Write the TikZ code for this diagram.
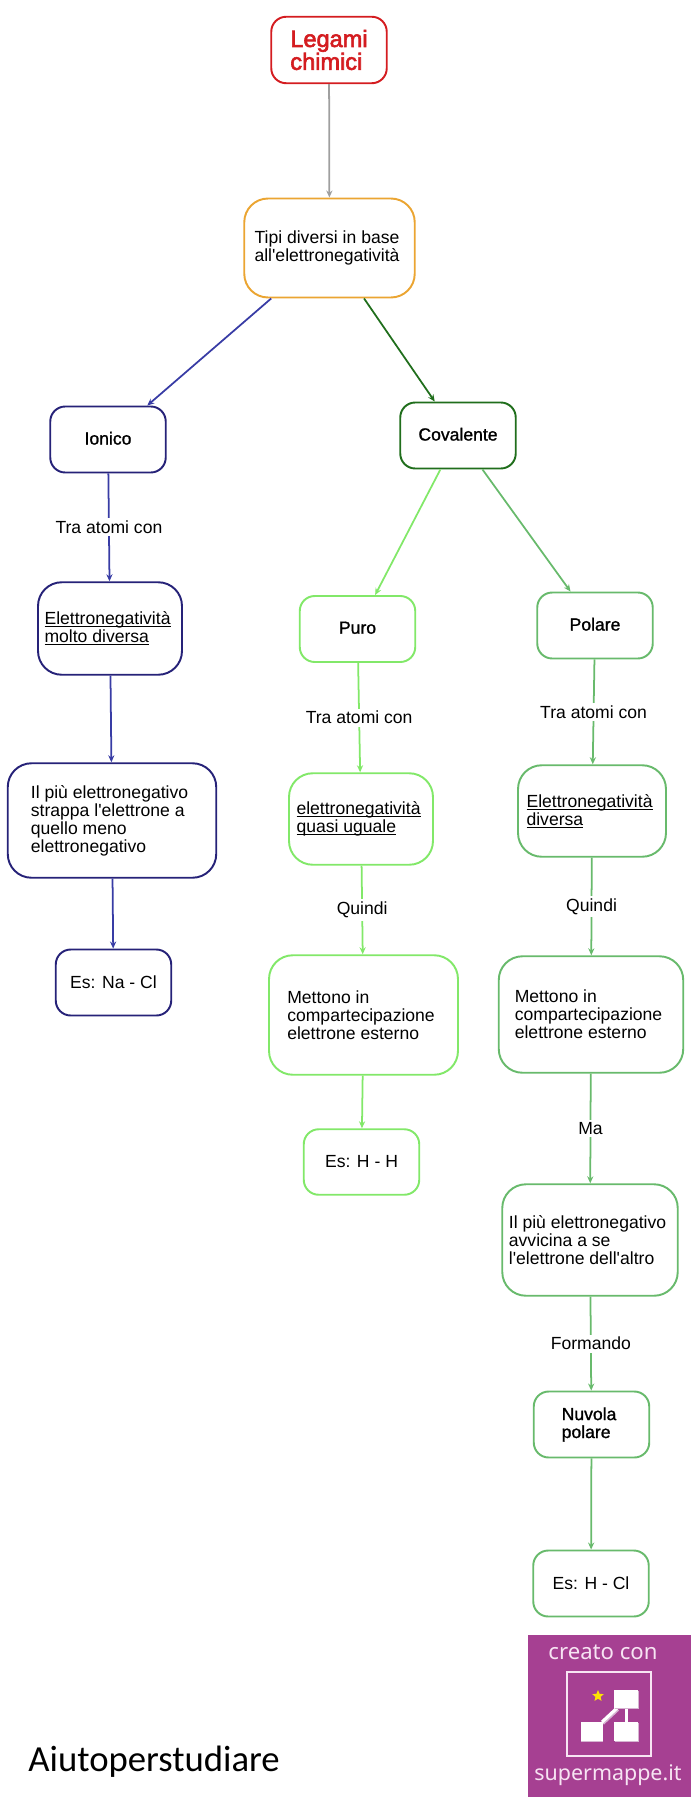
\documentclass[tikz,border=0pt]{standalone}
\usepackage{fontspec}
\setmainfont{Liberation Sans}[Ligatures=TeXOff]
\newfontfamily\fakebold[FakeBold=1.2, Ligatures=TeXOff]{Liberation Sans}
\newfontfamily\titlebold[FakeBold=2.5, Ligatures=TeXOff]{Liberation Sans}
\newfontfamily\handfont{Carlito}
\newfontfamily\logofont{Noto Sans}
\usetikzlibrary{positioning}
\usetikzlibrary{arrows.meta}
\usetikzlibrary{shapes.geometric}
\usetikzlibrary{shadows}
\definecolor{legred}{RGB}{212,28,32}
\definecolor{tipiorange}{RGB}{235,165,50}
\definecolor{ionnavy}{RGB}{38,34,120}
\definecolor{ionblue}{RGB}{56,60,165}
\definecolor{covgreen}{RGB}{32,110,28}
\definecolor{purolight}{RGB}{130,232,105}
\definecolor{polgreen}{RGB}{104,186,108}
\definecolor{logopurple}{RGB}{166,64,146}
\definecolor{logotext}{RGB}{247,228,243}
\definecolor{logoshade}{RGB}{214,180,210}
\newcommand{\ultext}[1]{\mbox{\setbox0\hbox{#1}\rlap{\rule[-1.5pt]{\wd0}{0.55pt}}\box0}}
\newcommand{\pad}{\hspace*{2.8pt}}
\tikzset{
    mapbox/.style={draw, fill=white, line width=1.1pt, rounded corners=8.5pt, inner sep=0pt, align=left},
    bigbox/.style={mapbox, rounded corners=13.5pt},
    boldbox/.style={mapbox, minimum width=2.31cm, minimum height=1.32cm, font=\fakebold\fontsize{10}{10.2}\selectfont},
    titlebox/.style={boldbox, text depth=1.5pt},
    linklabel/.style={fill=white, inner sep=1.5pt, text=black},
    maparrow/.style={-{Stealth[length=4pt, width=3.5pt]}, line width=1pt},
    logobox/.style={fill=white, inner sep=0pt, drop shadow={shadow xshift=0.4pt, shadow yshift=-0.7pt, fill=logoshade, opacity=1}},
}
\begin{document}
\begin{tikzpicture}[x=0.02cm, y=-0.02cm, every node/.style={font=\fontsize{10}{10.2}\selectfont}]
    \useasboundingbox (0,0) rectangle (691,1797);
    % main column
    \node[mapbox, draw=legred, text=legred, minimum width=2.31cm, minimum height=1.33cm, font=\titlebold\fontsize{13.4}{13}\selectfont] (legami) at (329,50) {Legami\\chimici};
    \node[bigbox, draw=tipiorange, minimum width=3.41cm, minimum height=1.98cm] (tipi) at (329.5,248) {Tipi diversi in base\\all'elettronegatività\pad};
    \node[titlebox, draw=ionnavy] (ionico) at (108,439.5) {Ionico};
    \node[titlebox, draw=covgreen] (covalente) at (458,435.5) {Covalente};
    % ionico branch
    \node[bigbox, draw=ionnavy, minimum width=2.88cm, minimum height=1.85cm] (molto) at (110,628.5) {\ultext{Elettronegatività}\pad\\\ultext{molto diversa}};
    \node[bigbox, draw=ionnavy, minimum width=4.17cm, minimum height=2.29cm] (strappa) at (112,820.5) {Il più elettronegativo\pad\\strappa l'elettrone a\\quello meno\\elettronegativo};
    \node[mapbox, draw=ionnavy, minimum width=2.31cm, minimum height=1.32cm] (esna) at (113.5,982.5) {Es: Na - Cl};
    % puro branch
    \node[titlebox, draw=purolight] (puro) at (357.5,629) {Puro};
    \node[bigbox, draw=purolight, minimum width=2.88cm, minimum height=1.83cm] (uguale) at (361,819) {\ultext{elettronegatività}\pad\\\ultext{quasi uguale}};
    \node[bigbox, draw=purolight, minimum width=3.78cm, minimum height=2.39cm] (mettonopuro) at (363.5,1015) {Mettono in\\compartecipazione\pad\pad\\elettrone esterno};
    \node[mapbox, draw=purolight, minimum width=2.31cm, minimum height=1.31cm] (eshh) at (361.5,1162) {Es: H - H};
    % polare branch
    \node[titlebox, draw=polgreen] (polare) at (595,625.5) {Polare};
    \node[bigbox, draw=polgreen, minimum width=2.96cm, minimum height=1.83cm] (diversa) at (592,811) {\ultext{Elettronegatività}\pad\\\ultext{diversa}};
    \node[bigbox, draw=polgreen, minimum width=3.69cm, minimum height=2.33cm] (mettonopol) at (591,1014.5) {Mettono in\\compartecipazione\pad\pad\\elettrone esterno};
    \node[bigbox, draw=polgreen, minimum width=3.51cm, minimum height=2.23cm] (avvicina) at (590,1240) {Il più elettronegativo\pad\\avvicina a se\\l'elettrone dell'altro};
    \node[boldbox, draw=polgreen] (nuvola) at (591.5,1424.5) {Nuvola\pad\\polare};
    \node[mapbox, draw=polgreen, minimum width=2.31cm, minimum height=1.32cm] (eshcl) at (591,1583.5) {Es: H - Cl};
    % connectors
    \draw[maparrow, gray!75] (legami) -- (tipi);
    \draw[maparrow, ionblue] (tipi) -- (ionico);
    \draw[maparrow, covgreen] (tipi) -- (covalente);
    \draw[maparrow, ionblue] (ionico) -- node[linklabel] {Tra atomi con} (molto);
    \draw[maparrow, ionblue] (molto) -- (strappa);
    \draw[maparrow, ionblue] (strappa) -- (esna);
    \draw[maparrow, purolight] (covalente) -- (puro);
    \draw[maparrow, polgreen] (covalente) -- (polare);
    \draw[maparrow, purolight] (puro) -- node[linklabel] {Tra atomi con} (uguale);
    \draw[maparrow, purolight] (uguale) -- node[linklabel] {Quindi} (mettonopuro);
    \draw[maparrow, purolight] (mettonopuro) -- (eshh);
    \draw[maparrow, polgreen] (polare) -- node[linklabel] {Tra atomi con} (diversa);
    \draw[maparrow, polgreen] (diversa) -- node[linklabel] {Quindi} (mettonopol);
    \draw[maparrow, polgreen] (mettonopol) -- node[linklabel] {Ma} (avvicina);
    \draw[maparrow, polgreen] (avvicina) -- node[linklabel] {Formando} (nuvola);
    \draw[maparrow, polgreen] (nuvola) -- (eshcl);
    % footer
    \node[anchor=west, inner sep=0pt, font=\handfont\fontsize{20.9}{21}\selectfont] (aiuto) at (28,1762) {Aiutoperstudiare};
    \fill[logopurple] (528,1635) rectangle (691,1797);
    \node[text=logotext, font=\logofont\fontsize{12.6}{13}\selectfont] (creato) at (603,1652) {creato con};
    \node[text=logotext, font=\logofont\fontsize{12.2}{13}\selectfont] (sito) at (608,1775) {supermappe.it};
    \node[draw=logotext, line width=0.7pt, minimum size=1.68cm, inner sep=0pt] (logoframe) at (609,1714) {};
    \draw[logoshade, line width=1.8pt, transform canvas={xshift=0.5pt, yshift=-0.8pt}] (602,1722) -- (617,1708);
    \draw[white, line width=1.8pt] (602,1722) -- (617,1708);
    \draw[white, line width=1.7pt] (626,1708) -- (626,1722);
    \node[logobox, minimum width=0.48cm, minimum height=0.37cm] (logotop) at (626,1699) {};
    \node[logobox, minimum width=0.48cm, minimum height=0.38cm] (logoright) at (626,1731.5) {};
    \node[logobox, minimum width=0.44cm, minimum height=0.38cm] (logoleft) at (591.5,1731.5) {};
    \node[star, star points=5, star point ratio=2.2, fill=yellow!85!orange, inner sep=0pt, minimum size=0.24cm] (logostar) at (598,1696) {};
\end{tikzpicture}
\end{document}
